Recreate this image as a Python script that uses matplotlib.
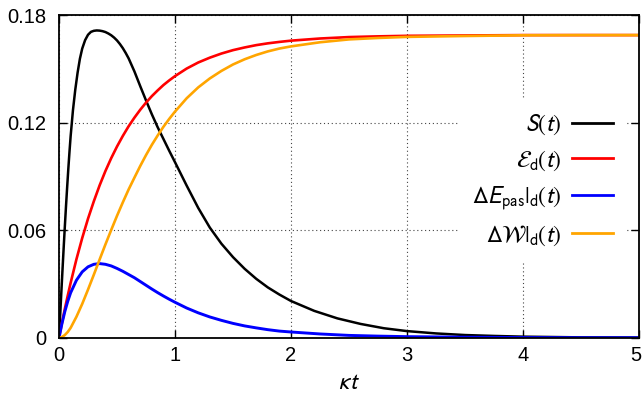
import matplotlib
matplotlib.use("Agg")
import matplotlib.pyplot as plt
from matplotlib.transforms import ScaledTranslation

plt.rcParams['font.family'] = ['Liberation Sans', 'DejaVu Sans']
plt.rcParams['mathtext.fontset'] = 'stixsans'

# S(t)
t_s = [0, 0.01, 0.02, 0.03, 0.04, 0.05, 0.06, 0.07, 0.08, 0.09, 0.1, 0.12, 0.14, 0.16,
       0.18, 0.2, 0.225, 0.25, 0.275, 0.3, 0.325, 0.35, 0.375, 0.4, 0.425, 0.45, 0.475,
       0.5, 0.525, 0.55, 0.575, 0.6, 0.65, 0.7, 0.75, 0.8, 0.85, 0.9, 0.95, 1.0, 1.1,
       1.2, 1.3, 1.4, 1.5, 1.6, 1.7, 1.8, 1.9, 2.0, 2.2, 2.4, 2.6, 2.8, 3.0, 3.25, 3.5,
       3.75, 4.0, 4.5, 5.0]
s_vals = [0, 0.0128, 0.0255, 0.0380, 0.0502, 0.0620, 0.0733, 0.0840, 0.0942, 0.1037,
          0.1125, 0.1270, 0.1385, 0.1480, 0.1558, 0.1615, 0.1662, 0.1692, 0.1708,
          0.1714, 0.1716, 0.1715, 0.1712, 0.1707, 0.1699, 0.1689, 0.1676, 0.1660,
          0.1640, 0.1617, 0.1590, 0.1560, 0.1487, 0.1405, 0.1325, 0.1248, 0.1176,
          0.1110, 0.1044, 0.0980, 0.0850, 0.0725, 0.0615, 0.0525, 0.0450, 0.0385,
          0.0329, 0.0281, 0.0241, 0.0205, 0.0150, 0.0108, 0.0077, 0.0053, 0.0037,
          0.0024, 0.0015, 0.0010, 0.0006, 0.0002, 0.0001]

# common time grid for the other three curves
t_d = [0, 0.025, 0.05, 0.075, 0.1, 0.15, 0.2, 0.25, 0.3, 0.35, 0.4, 0.45, 0.5, 0.55,
       0.6, 0.65, 0.7, 0.75, 0.8, 0.85, 0.9, 0.95, 1.0, 1.1, 1.2, 1.3, 1.4, 1.5, 1.6,
       1.7, 1.8, 1.9, 2.0, 2.25, 2.5, 2.75, 3.0, 3.5, 4.0, 4.5, 5.0]
ergo_d = [0, 0.0082, 0.0161, 0.0235, 0.0306, 0.0438, 0.0557, 0.0665, 0.0762, 0.0851,
          0.0931, 0.1003, 0.1068, 0.1127, 0.1181, 0.1229, 0.1273, 0.1313, 0.1349,
          0.1381, 0.1411, 0.1437, 0.1461, 0.1503, 0.1537, 0.1564, 0.1587, 0.1606,
          0.1621, 0.1634, 0.1644, 0.1652, 0.1659, 0.1671, 0.1679, 0.1683, 0.1686,
          0.1688, 0.1690, 0.1690, 0.1690]
e_pas = [0, 0.0078, 0.0146, 0.0203, 0.0251, 0.0321, 0.0368, 0.0396, 0.0410, 0.0414,
         0.0410, 0.0401, 0.0387, 0.0371, 0.0353, 0.0335, 0.0314, 0.0293, 0.0272,
         0.0252, 0.0233, 0.0215, 0.0198, 0.0166, 0.0139, 0.0116, 0.0097, 0.0080,
         0.0066, 0.0055, 0.0045, 0.0037, 0.0032, 0.0021, 0.0013, 0.0009, 0.0006,
         0.0003, 0.0001, 0.0000, 0.0000]
work_d = [0, 0.0004, 0.0015, 0.0032, 0.0055, 0.0117, 0.0189, 0.0269, 0.0352, 0.0437,
          0.0521, 0.0602, 0.0681, 0.0756, 0.0828, 0.0894, 0.0959, 0.1020, 0.1077,
          0.1129, 0.1178, 0.1222, 0.1263, 0.1337, 0.1398, 0.1448, 0.1490, 0.1526,
          0.1555, 0.1579, 0.1599, 0.1615, 0.1627, 0.1650, 0.1666, 0.1674, 0.1680,
          0.1685, 0.1689, 0.1690, 0.1690]

labels = [r'$S(t)$', r'$\mathcal{E}_{\rm d}(t)$',
          r'$\Delta E_{\rm pas}|_{\rm d}(t)$', r'$\Delta\mathcal{W}|_{\rm d}(t)$']
colors = ['black', '#ff0000', '#0000ff', '#ffa500']

x_ticks = [0, 1, 2, 3, 4, 5]
y_ticks = [0, 0.06, 0.12, 0.18]
y_ticklabels = ['0', '0.06', '0.12', '0.18']

fig = plt.figure(figsize=(6.43, 3.95), dpi=100)
ax = fig.add_axes([0.0918, 0.145, 0.902, 0.816])

ax.plot(t_s, s_vals, color=colors[0], lw=1.8, label=labels[0])
ax.plot(t_d, ergo_d, color=colors[1], lw=1.9, label=labels[1])
ax.plot(t_d, e_pas, color=colors[2], lw=2.1, label=labels[2])
ax.plot(t_d, work_d, color=colors[3], lw=1.9, label=labels[3])

ax.set_xlim(0, 5)
ax.set_ylim(0, 0.18)
ax.set_xticks(x_ticks)
ax.set_yticks(y_ticks)
ax.set_yticklabels(y_ticklabels)
ax.tick_params(direction='in', top=True, right=True, length=6, width=1,
               labelsize=14.5)
ax.tick_params(axis='y', pad=9)
ax.tick_params(axis='x', pad=6)
for sp in ax.spines.values():
    sp.set_linewidth(1.3)

# last x label sits right at the figure edge; nudge it in a little
last = ax.xaxis.get_major_ticks()[-1].label1
last.set_transform(last.get_transform() + ScaledTranslation(-3 / 100, 0, fig.dpi_scale_trans))

ax.grid(True, color='#444444', linestyle=(0, (1, 2.5)), lw=0.8)
ax.set_xlabel(r'$\kappa t$', fontsize=17, labelpad=5)

leg = ax.legend(loc='upper right', bbox_to_anchor=(0.978, 0.738), borderaxespad=0,
                markerfirst=False, fontsize=17, handlelength=1.75,
                handletextpad=0.45, labelspacing=0.47, borderpad=0.55,
                frameon=True, fancybox=False)
leg.get_frame().set_facecolor('white')
leg.get_frame().set_edgecolor('none')
leg.get_frame().set_alpha(1)
for line in leg.get_lines():
    line.set_linewidth(2.0)

fig.savefig('out.png', dpi=100)
